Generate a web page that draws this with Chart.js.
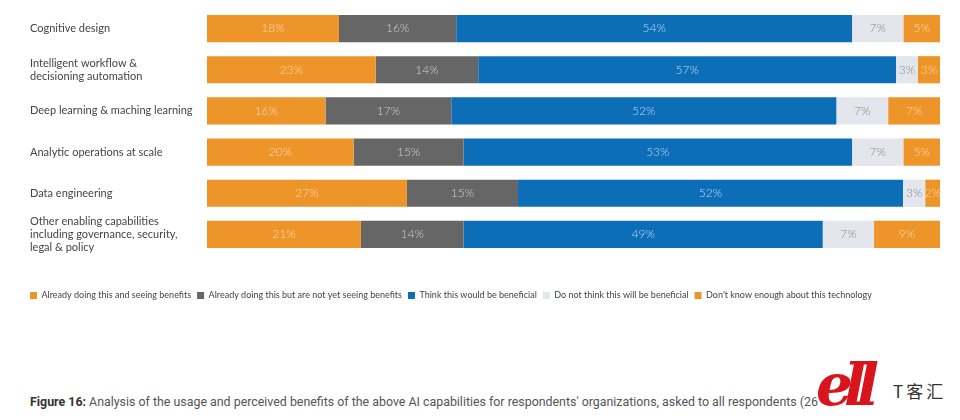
<!DOCTYPE html>
<html>
<head>
<meta charset="utf-8">
<script src="https://cdn.jsdelivr.net/npm/chart.js@4.4.0/dist/chart.umd.min.js"></script>
<style>
  html, body { margin: 0; padding: 0; background: #fff; }
  #wrap { position: relative; width: 960px; height: 420px; overflow: hidden; }
  #chart { position: absolute; left: 0; top: 0; }
  #caption { position: absolute; left: 30px; top: 394px; font-family: Roboto, sans-serif; font-size: 12.4px; color: #555; white-space: nowrap; }
  #caption b { color: #333; }
  #logo { position: absolute; left: 816px; top: 352px; font-family: "DejaVu Serif", serif; font-style: italic; font-weight: bold; font-size: 58px; line-height: 1.164; color: #d8141c; letter-spacing: -9px; white-space: nowrap; }
  #logotxt { position: absolute; left: 893px; top: 378px; font-family: "Noto Sans CJK SC", sans-serif; font-size: 17px; color: #333; letter-spacing: 3px; white-space: nowrap; }
</style>
</head>
<body>
<div id="wrap">
  <canvas id="chart" width="960" height="320"></canvas>
  <div id="caption"><b>Figure 16:</b> Analysis of the usage and perceived benefits of the above AI capabilities for respondents' organizations, asked to all respondents (26</div>
  <div id="logo">ell</div>
  <div id="logotxt">T客汇</div>
</div>
<script>
const categories = [
  'Cognitive design',
  ['Intelligent workflow &', 'decisioning automation'],
  'Deep learning & maching learning',
  'Analytic operations at scale',
  'Data engineering',
  ['Other enabling capabilities', 'including governance, security,', 'legal & policy']
];
const seriesNames = [
  'Already doing this and seeing benefits',
  'Already doing this but are not yet seeing benefits',
  'Think this would be beneficial',
  'Do not think this will be beneficial',
  "Don't know enough about this technology"
];
const doingSeeing = [18, 23, 16, 20, 27, 21];
const doingNotYet = [16, 14, 17, 15, 15, 14];
const thinkBeneficial = [54, 57, 52, 53, 52, 49];
const notBeneficial = [7, 3, 7, 7, 3, 7];
const dontKnow = [5, 3, 7, 5, 2, 9];

const series = [doingSeeing, doingNotYet, thinkBeneficial, notBeneficial, dontKnow];
const colors = ['#EE952A', '#666666', '#0D6EB8', '#E3E6EC', '#EE952A'];
const labelColors = ['#FBD9B2', '#CFCFCF', '#C3D8EE', '#8A8A8A', '#FBD9B2'];

// each row is drawn as share of its own total so the bars fill the width
const rowTotals = categories.map((c, i) => series.reduce((s, arr) => s + arr[i], 0));

const datasets = series.map((arr, k) => ({
  label: seriesNames[k],
  data: arr.map((v, i) => v / rowTotals[i] * 100),
  raw: arr,
  backgroundColor: colors[k],
  borderWidth: 0,
  barPercentage: 0.66,
  categoryPercentage: 1
}));

const barLabels = {
  id: 'barLabels',
  afterLayout(chart) {
    // legend boxes start flush with the category labels
    chart.legend.left -= 6;
  },
  afterDatasetsDraw(chart) {
    const ctx = chart.ctx;
    ctx.save();
    ctx.font = '300 12px Lato';
    ctx.textAlign = 'center';
    ctx.textBaseline = 'middle';
    chart.data.datasets.forEach((ds, k) => {
      chart.getDatasetMeta(k).data.forEach((bar, i) => {
        const cx = (bar.x + bar.base) / 2;
        ctx.fillStyle = labelColors[k];
        ctx.fillText(ds.raw[i] + '%', cx, bar.y);
      });
    });
    ctx.restore();
  }
};

new Chart(document.getElementById('chart'), {
  type: 'bar',
  data: { labels: categories, datasets: datasets },
  options: {
    indexAxis: 'y',
    responsive: false,
    animation: false,
    layout: { padding: { left: 30, right: 20, top: 8, bottom: 10 } },
    scales: {
      x: {
        stacked: true, min: 0, max: 100,
        grid: { display: false }, border: { display: false },
        ticks: { display: false },
        afterFit(s) { s.height = 30; }
      },
      y: {
        stacked: true,
        grid: { display: false }, border: { display: false },
        ticks: { autoSkip: false, crossAlign: 'far', color: '#444', font: { family: 'Lato', size: 11 }, lineHeight: 1.1 },
        afterFit(s) { s.width = 177; s.paddingTop = 0; s.paddingBottom = 0; }
      }
    },
    plugins: {
      tooltip: { enabled: false },
      legend: {
        position: 'bottom',
        align: 'start',
        labels: {
          boxWidth: 7, boxHeight: 7, padding: 6,
          color: '#444',
          font: { family: 'Lato', size: 9 }
        }
      }
    }
  },
  plugins: [barLabels]
});
</script>
</body>
</html>
